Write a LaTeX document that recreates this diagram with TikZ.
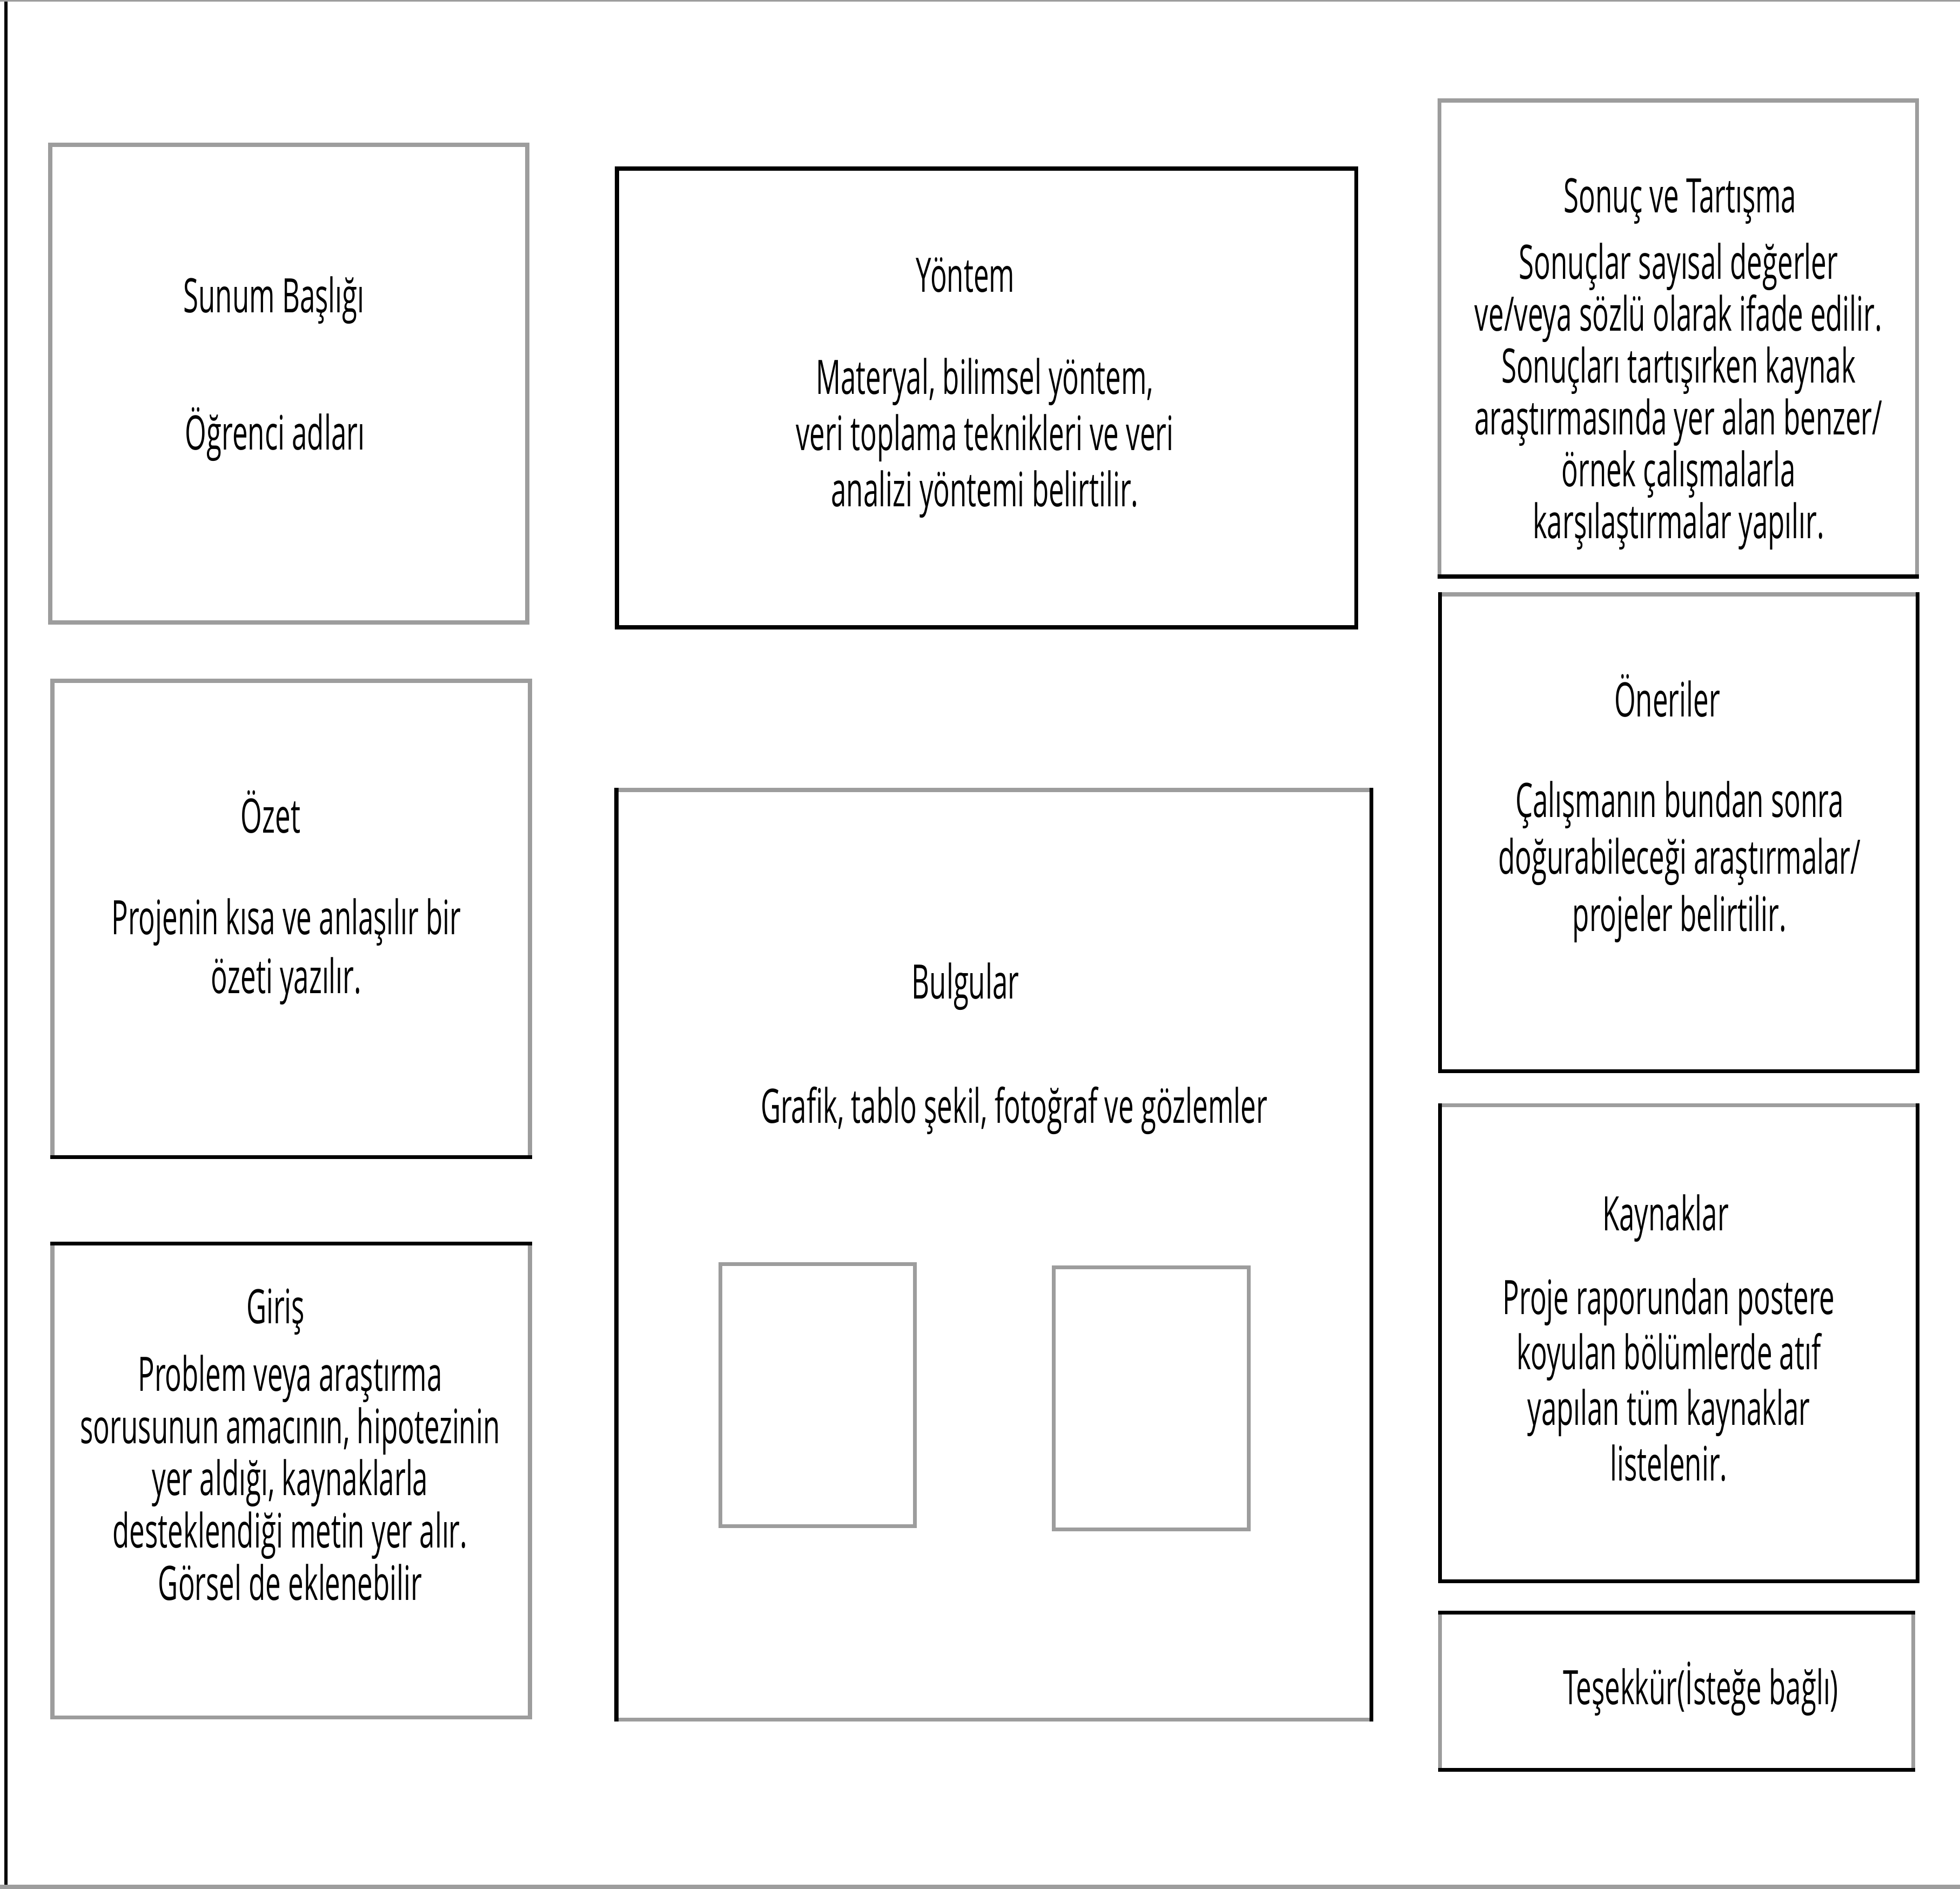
\documentclass[tikz,border=0pt]{standalone}
\usepackage{fontspec}
\setmainfont{Open Sans}[FakeStretch=0.58]
\definecolor{linegray}{HTML}{9D9D9D}
\tikzset{
	panel/.style={draw=linegray, line width=2pt, inner sep=0pt, outer sep=0pt},
	blackside/.style={draw=black, line width=2pt, line cap=rect},
	txt/.style={font=\fontsize{25}{#1}\selectfont, align=center, anchor=base, inner sep=0pt},
	txt/.default=29
}
\begin{document}
\begin{tikzpicture}
				\useasboundingbox (0,0) rectangle (36.28,-34.96);
				\draw[line width=1.6pt] (0.11,0) -- (0.11,-34.96);
				\draw[linegray, line width=0.9pt] (0,-0.015) -- (36.28,-0.015);
				\draw[linegray, line width=2.3pt] (0,-34.92) -- (36.28,-34.92);
				% left column
				\node[panel, minimum width=8.83cm, minimum height=8.84cm] (sunum) at (5.345,-7.10) {};
				\node[panel, minimum width=8.84cm, minimum height=8.81cm] (ozet) at (5.39,-17.005) {};
				\node[panel, minimum width=8.84cm, minimum height=8.77cm] (giris) at (5.39,-27.395) {};
				% middle column
				\node[panel, draw=black, minimum width=13.68cm, minimum height=8.49cm] (yontem) at (18.26,-7.365) {};
				\node[panel, minimum width=13.97cm, minimum height=17.20cm] (bulgular) at (18.395,-23.22) {};
				\node[panel, minimum width=3.60cm, minimum height=4.85cm] (gorsel1) at (15.13,-25.815) {};
				\node[panel, minimum width=3.61cm, minimum height=4.85cm] (gorsel2) at (21.305,-25.875) {};
				% right column
				\node[panel, minimum width=8.84cm, minimum height=8.81cm] (sonuc) at (31.06,-6.265) {};
				\node[panel, minimum width=8.84cm, minimum height=8.82cm] (oneriler) at (31.07,-15.41) {};
				\node[panel, minimum width=8.84cm, minimum height=8.81cm] (kaynak) at (31.07,-24.855) {};
				\node[panel, minimum width=8.76cm, minimum height=2.91cm] (tesekkur) at (31.03,-31.295) {};
				\draw[blackside] (ozet.south west) -- (ozet.south east);
				\draw[blackside] (giris.north west) -- (giris.north east);
				\draw[blackside] (bulgular.north west) -- (bulgular.south west);
				\draw[blackside] (bulgular.north east) -- (bulgular.south east);
				\draw[blackside] (sonuc.south west) -- (sonuc.south east);
				\foreach \n in {oneriler,kaynak} {
					\draw[blackside] (\n.north west) -- (\n.south west) -- (\n.south east) -- (\n.north east);
				}
				\draw[blackside] (tesekkur.north west) -- (tesekkur.north east);
				\draw[blackside] (tesekkur.south west) -- (tesekkur.south east);
				% texts (multi-line nodes sit on their last line)
				\node[txt] (sunum-title) at (5.07,-5.78) {Sunum Başlığı};
				\node[txt] (sunum-names) at (5.09,-8.32) {Öğrenci adları};
				\node[txt] (ozet-title) at (5.01,-15.41) {Özet};
				\node[txt=31] (ozet-text) at (5.30,-18.38) {Projenin kısa ve anlaşılır bir\\özeti yazılır.};
				\node[txt] (giris-title) at (5.10,-24.49) {Giriş};
				\node[txt=27.5] (giris-text) at (5.37,-29.61) {Problem veya araştırma\\sorusunun amacının, hipotezinin\\yer aldığı, kaynaklarla\\desteklendiği metin yer alır.\\Görsel de eklenebilir};
				\node[txt] (yontem-title) at (17.87,-5.40) {Yöntem};
				\node[txt=29.5] (yontem-text) at (18.23,-9.37) {Materyal, bilimsel yöntem,\\veri toplama teknikleri ve veri\\analizi yöntemi belirtilir.};
				\node[txt] (bulgular-title) at (17.87,-18.48) {Bulgular};
				\node[txt] (bulgular-text) at (18.77,-20.78) {Grafik, tablo şekil, fotoğraf ve gözlemler};
				\node[txt] (sonuc-title) at (31.10,-3.94) {Sonuç ve Tartışma};
				\node[txt=27.3] (sonuc-text) at (31.07,-9.96) {Sonuçlar sayısal değerler\\ve/veya sözlü olarak ifade edilir.\\Sonuçları tartışırken kaynak\\araştırmasında yer alan benzer/\\örnek çalışmalarla\\karşılaştırmalar yapılır.};
				\node[txt] (oneriler-title) at (30.86,-13.26) {Öneriler};
				\node[txt=30] (oneriler-text) at (31.09,-17.23) {Çalışmanın bundan sonra\\doğurabileceği araştırmalar/\\projeler belirtilir.};
				\node[txt] (kaynak-title) at (30.83,-22.77) {Kaynaklar};
				\node[txt=29.2] (kaynak-text) at (30.89,-27.40) {Proje raporundan postere\\koyulan bölümlerde atıf\\yapılan tüm kaynaklar\\listelenir.};
				\node[txt] (tesekkur-text) at (31.48,-31.54) {Teşekkür(İsteğe bağlı)};
\end{tikzpicture}
\end{document}
